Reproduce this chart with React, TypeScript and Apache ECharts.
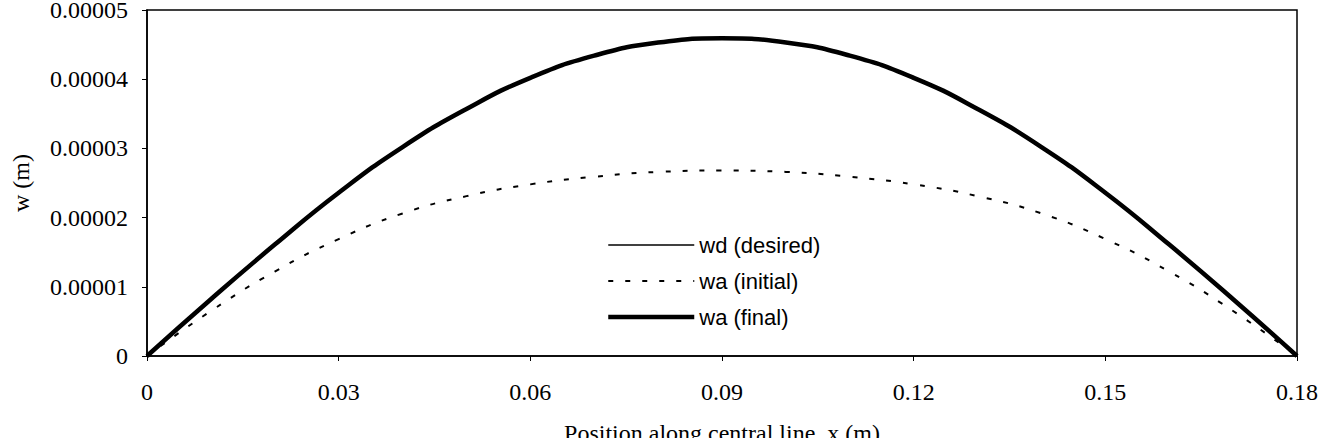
import React, { useEffect, useRef } from "react";
import * as echarts from "echarts";

const xPositions = [0, 0.01, 0.02, 0.03, 0.04, 0.05, 0.06, 0.07, 0.08, 0.09, 0.10, 0.11, 0.12, 0.13, 0.14, 0.15, 0.16, 0.17, 0.18];
const wdDesired = [0, 0.82e-5, 1.61e-5, 2.36e-5, 3.02e-5, 3.57e-5, 4.02e-5, 4.34e-5, 4.53e-5, 4.59e-5, 4.53e-5, 4.34e-5, 4.02e-5, 3.57e-5, 3.02e-5, 2.36e-5, 1.61e-5, 0.82e-5, 0];
const waInitial = [0, 0.65e-5, 1.22e-5, 1.69e-5, 2.06e-5, 2.31e-5, 2.48e-5, 2.59e-5, 2.66e-5, 2.68e-5, 2.66e-5, 2.59e-5, 2.48e-5, 2.31e-5, 2.06e-5, 1.69e-5, 1.22e-5, 0.65e-5, 0];
const waFinal = [0, 0.82e-5, 1.61e-5, 2.36e-5, 3.02e-5, 3.57e-5, 4.02e-5, 4.34e-5, 4.53e-5, 4.59e-5, 4.53e-5, 4.34e-5, 4.02e-5, 3.57e-5, 3.02e-5, 2.36e-5, 1.61e-5, 0.82e-5, 0];
const seriesNames = ["wd (desired)", "wa (initial)", "wa (final)"];
const xTickLabels = ["0", "0.03", "0.06", "0.09", "0.12", "0.15", "0.18"];
const yTickLabels = ["0", "0.00001", "0.00002", "0.00003", "0.00004", "0.00005"];

const pair = (ys: number[]) => xPositions.map((x, i) => [x, ys[i]]);

export default function App() {
  const ref = useRef<HTMLDivElement>(null);
  useEffect(() => {
    if (!ref.current) return;
    const chart = echarts.init(ref.current, undefined, { renderer: "svg" });
    const serif = "Liberation Serif";
    const lineStyles = [
      { color: "#000", width: 1.5, type: "solid" },
      { color: "#000", width: 2, type: [5, 12] },
      { color: "#000", width: 4.5, type: "solid" },
    ];
    chart.setOption({
      animation: false,
      backgroundColor: "#fff",
      grid: {
        left: 147,
        right: 23,
        top: 10,
        bottom: 82,
        show: true,
        borderColor: "#000",
        borderWidth: 1.5,
        containLabel: false,
        outerBoundsMode: "none",
      },
      legend: {
        orient: "vertical",
        left: 601,
        top: 229,
        itemWidth: 86,
        itemHeight: 22,
        itemGap: 14,
        itemStyle: { opacity: 0 },
        textStyle: {
          fontFamily: "Liberation Sans",
          fontSize: 22,
          lineHeight: 22,
          color: "#000",
        },
        data: seriesNames.map((n, i) => ({ name: n, lineStyle: lineStyles[i], itemStyle: { opacity: 0 } })),
      },
      xAxis: {
        type: "value",
        min: 0,
        max: 0.18,
        interval: 0.03,
        name: "Position along central line, x (m)",
        nameLocation: "middle",
        nameGap: 65,
        nameTextStyle: { fontFamily: serif, fontSize: 24, lineHeight: 24, color: "#000" },
        axisLine: { show: true, lineStyle: { color: "#000", width: 1.5 } },
        axisTick: { show: true, inside: false, length: 5, lineStyle: { color: "#000" } },
        axisLabel: {
          margin: 24,
          fontFamily: serif,
          fontSize: 24,
          color: "#000",
          formatter: (v: number) => xTickLabels[Math.round(v / 0.03)] ?? "",
        },
        splitLine: { show: false },
      },
      yAxis: {
        type: "value",
        min: 0,
        max: 0.00005,
        interval: 0.00001,
        name: "w (m)",
        nameLocation: "middle",
        nameGap: 114,
        nameRotate: 90,
        nameTextStyle: { fontFamily: serif, fontSize: 24, color: "#000" },
        axisLine: { show: true, lineStyle: { color: "#000", width: 1.5 } },
        axisTick: { show: true, inside: false, length: 5, lineStyle: { color: "#000" } },
        axisLabel: {
          margin: 19,
          fontFamily: serif,
          fontSize: 24,
          lineHeight: 20,
          color: "#000",
          formatter: (v: number) => yTickLabels[Math.round(v / 0.00001)] ?? "",
        },
        splitLine: { show: false },
      },
      series: [
        {
          name: seriesNames[0],
          type: "line",
          data: pair(wdDesired),
          smooth: true,
          symbol: "none",
          color: "#000",
          lineStyle: lineStyles[0],
          z: 2,
        },
        {
          name: seriesNames[1],
          type: "line",
          data: pair(waInitial),
          smooth: true,
          symbol: "none",
          color: "#000",
          lineStyle: lineStyles[1],
          z: 2,
        },
        {
          name: seriesNames[2],
          type: "line",
          data: pair(waFinal),
          smooth: true,
          symbol: "none",
          color: "#000",
          lineStyle: lineStyles[2],
          z: 3,
        },
      ],
    });
    return () => chart.dispose();
  }, []);
  return <div ref={ref} style={{ width: 1320, height: 438, position: "absolute", left: 0, top: 0 }} />;
}
